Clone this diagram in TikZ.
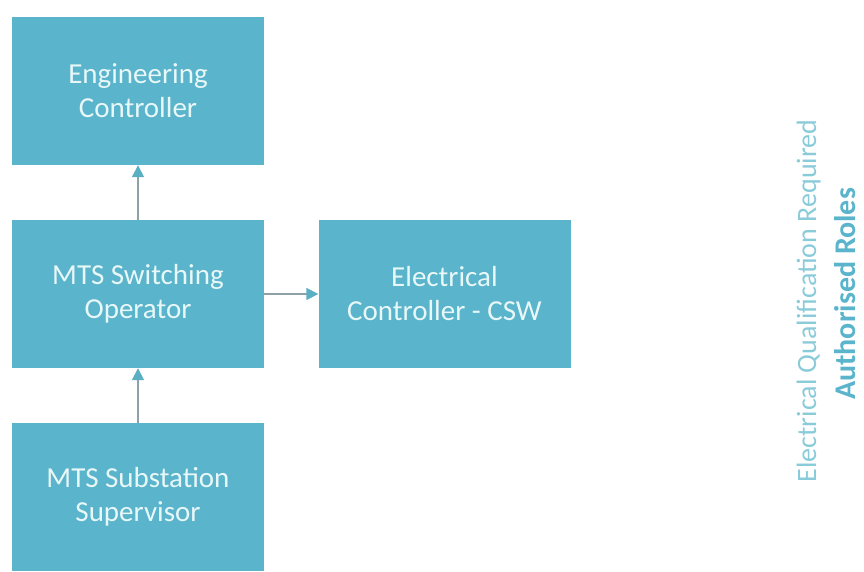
\documentclass[tikz,border=0pt]{standalone}
\usepackage{fontspec}
\setmainfont{Carlito}
\usetikzlibrary{arrows.meta}
\definecolor{boxblue}{HTML}{5AB4CB}
\definecolor{boxtext}{HTML}{E8F7F8}
\definecolor{linkgray}{HTML}{8CA2A8}
\definecolor{linkhead}{HTML}{5AAFC2}
\definecolor{quallight}{HTML}{8ACBDA}

\begin{document}
\begin{tikzpicture}[x=1pt,y=-1pt,
  role/.style={fill=boxblue, text=boxtext, align=center, inner sep=0pt,
    minimum width=252pt, minimum height=148pt, font=\fontsize{29}{34}\selectfont},
  link/.style={linkgray, line width=1.5pt,
    -{Triangle[length=12pt,width=12pt,fill=linkhead,color=linkhead]}}]
\useasboundingbox (0,0) rectangle (864,572);
\node[role] (eng) at (138,91) {Engineering\\Controller};
\node[role] (swo) at (138,294) {MTS Switching\\Operator};
\node[role] (sub) at (138,497) {MTS Substation\\Supervisor};
\node[role] (ecc) at (444.5,294) {Electrical\\Controller - CSW};
\draw[link] (swo) -- (eng);
\draw[link] (sub) -- (swo);
\draw[link] (swo) -- (ecc);
% side labels
\node[rotate=90, anchor=base, inner sep=0pt, text=quallight, font=\fontsize{28}{32}\selectfont] (qual) at (816,301) {Electrical Qualification Required};
\node[rotate=90, anchor=base, inner sep=0pt, text=boxblue, font=\fontsize{30}{36}\selectfont\bfseries] (auth) at (855,294) {Authorised Roles};
\end{tikzpicture}
\end{document}
